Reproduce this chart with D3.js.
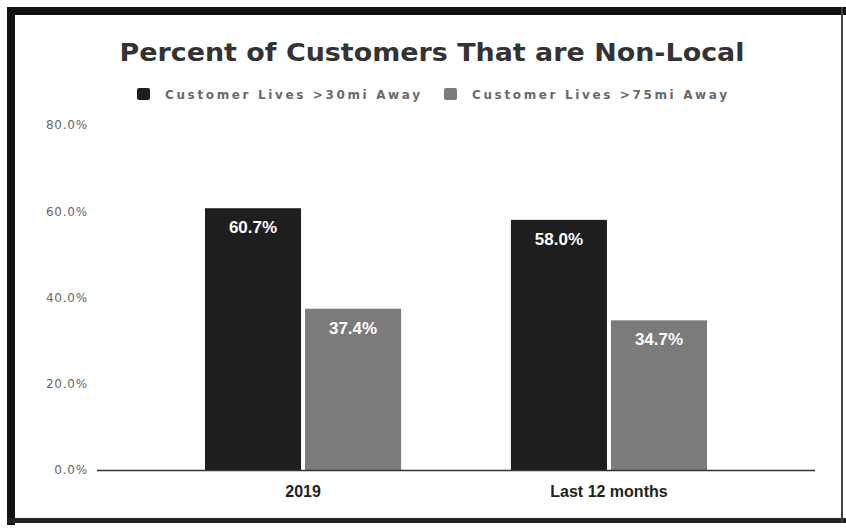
<!DOCTYPE html>
<html>
<head>
<meta charset="utf-8">
<script src="https://cdn.jsdelivr.net/npm/d3@7"></script>
<style>
  body { margin: 0; background: #fff; }
  svg { display: block; }
</style>
</head>
<body>
<div class="chart"></div>
<script>
// chart data
const categories = ["2019", "Last 12 months"];
const seriesNames = ["Customer Lives >30mi Away", "Customer Lives >75mi Away"];
const over30 = [60.7, 58.0];
const over75 = [37.4, 34.7];
const yTicks = [0, 20, 40, 60, 80];
const colors = ["#1e1e1e", "#7b7b7b"];

const width = 846, height = 531;

const svg = d3.select(".chart")
    .append("svg")
    .attr("width", width)
    .attr("height", height);

// white page + scanned frame
svg.append("rect").attr("width", width).attr("height", height).attr("fill", "#fff");
svg.append("rect").attr("x", 7).attr("y", 7).attr("width", 846 - 7).attr("height", 8).attr("fill", "#111");
svg.append("rect").attr("x", 7).attr("y", 7).attr("width", 8).attr("height", 518).attr("fill", "#111");
svg.append("rect").attr("x", 7).attr("y", 518).attr("width", 839).attr("height", 5).attr("fill", "#222");
svg.append("rect").attr("x", 841).attr("y", 7).attr("width", 2).attr("height", 516).attr("fill", "#444");

// scales
const x0 = d3.scaleBand()
    .domain(categories)
    .range([97, 815])
    .paddingInner(0.359)
    .paddingOuter(0.353);

const x1 = d3.scaleBand()
    .domain(seriesNames)
    .range([0, x0.bandwidth()])
    .paddingInner(0.04);

const y = d3.scaleLinear()
    .domain([0, 80])
    .range([470, 125]);

// title
svg.append("text")
    .attr("x", 432)
    .attr("y", 61)
    .attr("text-anchor", "middle")
    .attr("font-family", "DejaVu Sans")
    .attr("font-weight", "bold")
    .attr("font-size", 25)
    .attr("fill", "#333")
    .attr("textLength", 625)
    .attr("lengthAdjust", "spacingAndGlyphs")
    .text("Percent of Customers That are Non-Local");

// legend
const legendX = [137, 444];
const legend = svg.selectAll(".legend")
    .data(seriesNames)
    .enter()
    .append("g")
    .attr("class", "legend")
    .attr("transform", (d, i) => `translate(${legendX[i]}, 88)`);

legend.append("rect")
    .attr("width", 13)
    .attr("height", 12)
    .attr("rx", 2)
    .attr("fill", (d, i) => colors[i]);

legend.append("text")
    .attr("x", 28)
    .attr("y", 10.5)
    .attr("font-family", "DejaVu Sans")
    .attr("font-weight", "bold")
    .attr("font-size", 12)
    .attr("fill", "#6a6a6a")
    .attr("textLength", 255)
    .attr("lengthAdjust", "spacing")
    .text(d => d);

// y axis
const yAxis = svg.append("g")
    .attr("transform", "translate(97, 0)")
    .call(d3.axisLeft(y)
        .tickValues(yTicks)
        .tickSize(0)
        .tickPadding(9)
        .tickFormat(d => d3.format(".1f")(d) + "%"));
yAxis.select(".domain").remove();
yAxis.selectAll("text")
    .attr("font-family", "DejaVu Sans")
    .attr("font-size", 12)
    .attr("letter-spacing", 0.8)
    .attr("fill", "#666");

// bars
const rows = categories.map((c, i) => ({ cat: c, values: [over30[i], over75[i]] }));

const groups = svg.selectAll(".group")
    .data(rows)
    .enter()
    .append("g")
    .attr("class", "group")
    .attr("transform", d => `translate(${x0(d.cat)}, 0)`);

groups.selectAll("rect")
    .data(d => d.values.map((v, i) => ({ name: seriesNames[i], value: v, i })))
    .enter()
    .append("rect")
    .attr("x", d => x1(d.name))
    .attr("y", d => y(d.value))
    .attr("width", x1.bandwidth())
    .attr("height", d => y(0) - y(d.value))
    .attr("fill", d => colors[d.i]);

// value labels
groups.selectAll(".val")
    .data(d => d.values.map((v, i) => ({ name: seriesNames[i], value: v, i })))
    .enter()
    .append("text")
    .attr("class", "val")
    .attr("x", d => x1(d.name) + x1.bandwidth() / 2)
    .attr("y", d => y(d.value) + 25)
    .attr("text-anchor", "middle")
    .attr("font-family", "Liberation Sans")
    .attr("font-weight", "bold")
    .attr("font-size", 17)
    .attr("fill", "#fff")
    .text(d => d3.format(".1f")(d.value) + "%");

// baseline
svg.append("line")
    .attr("x1", 97)
    .attr("x2", 815)
    .attr("y1", y(0) + 0.5)
    .attr("y2", y(0) + 0.5)
    .attr("stroke", "#333")
    .attr("stroke-width", 1.5);

// x labels
svg.selectAll(".xlab")
    .data(categories)
    .enter()
    .append("text")
    .attr("class", "xlab")
    .attr("x", d => x0(d) + x0.bandwidth() / 2)
    .attr("y", 497)
    .attr("text-anchor", "middle")
    .attr("font-family", "Liberation Sans")
    .attr("font-weight", "bold")
    .attr("font-size", 16)
    .attr("fill", "#222")
    .text(d => d);
</script>
</body>
</html>
